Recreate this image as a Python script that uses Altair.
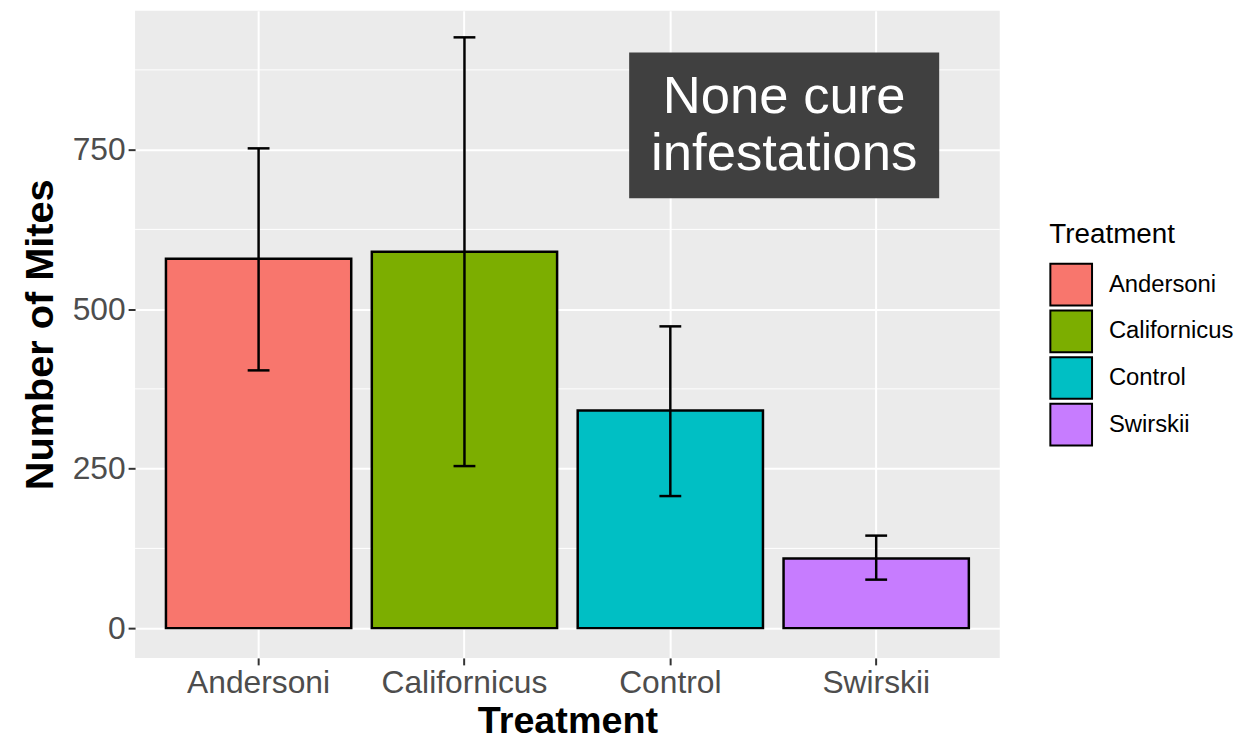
import altair as alt
import pandas as pd

# ---- data ----
treatments = ["Andersoni", "Californicus", "Control", "Swirskii"]
means = [579, 590, 341, 109]
err_low = [404, 254, 207, 76]
err_high = [752, 926, 473, 145]
colors = ["#F8766D", "#7CAE00", "#00BFC4", "#C77CFF"]
y_ticks = [0, 250, 500, 750]
minor_grid = [125, 375, 625, 875]

# annotation (in ggplot-like continuous units: categories at 1..4)
box_x = [2.80, 4.306]
box_y = [673.7, 902.4]
note_lines = ["None cure", "infestations"]
note_x = [3.553, 3.553]
note_y = [807.5, 718.0]

FONT = "Liberation Sans"

df = pd.DataFrame({"Treatment": treatments, "mean": means, "lo": err_low, "hi": err_high})
df_minor = pd.DataFrame({"v": minor_grid})
df_box = pd.DataFrame({"x": [box_x[0]], "x2": [box_x[1]], "y": [box_y[0]], "y2": [box_y[1]]})
df_note = pd.DataFrame({"t": note_lines, "x": note_x, "y": note_y})

y_scale = alt.Scale(domain=[-46.7, 967.8], nice=False, zero=False)
x_scale = alt.Scale(domain=treatments, paddingInner=0.1, paddingOuter=0.15)

x_enc = alt.X(
    "Treatment:N",
    scale=x_scale,
    sort=treatments,
    axis=alt.Axis(
        title="Treatment",
        titleFontSize=38,
        titleFontWeight="bold",
        titleColor="black",
        titleFont=FONT,
        titlePadding=4,
        labelFontSize=32,
        labelFont=FONT,
        labelColor="#4D4D4D",
        labelAngle=0,
        labelPadding=3,
        tickColor="#333333",
        tickWidth=2,
        tickSize=7,
        bandPosition=0.5,
        grid=True,
        gridColor="white",
        gridWidth=2,
        domain=False,
    ),
)

y_axis = alt.Axis(
    title="Number of Mites",
    titleFontSize=40,
    titleFontWeight="bold",
    titleColor="black",
    titleFont=FONT,
    titlePadding=12,
    labelFontSize=32,
    labelFont=FONT,
    labelColor="#4D4D4D",
    labelPadding=3,
    values=y_ticks,
    tickColor="#333333",
    tickWidth=2,
    tickSize=7,
    grid=True,
    gridColor="white",
    gridWidth=2,
    domain=False,
)

minor = alt.Chart(df_minor).mark_rule(color="white", strokeWidth=1).encode(
    y=alt.Y("v:Q", scale=y_scale, axis=y_axis)
)

bars = alt.Chart(df).mark_bar(stroke="black", strokeWidth=2.5, opacity=1).encode(
    x=x_enc,
    y=alt.Y("mean:Q", scale=y_scale, axis=y_axis),
    color=alt.Color(
        "Treatment:N",
        scale=alt.Scale(domain=treatments, range=colors),
        legend=alt.Legend(
            title="Treatment",
            orient="none",
            legendX=921,
            legendY=212,
            titleFontSize=28,
            titleFontWeight="normal",
            titleColor="black",
            titleFont=FONT,
            titlePadding=14,
            labelFontSize=24,
            labelFont=FONT,
            labelColor="black",
            symbolType="square",
            symbolSize=1764,
            symbolStrokeColor="black",
            symbolStrokeWidth=2,
            symbolOpacity=1,
            rowPadding=-7,
            labelOffset=16,
        ),
    ),
)

err = alt.Chart(df).mark_rule(color="black", strokeWidth=2.5).encode(
    x=alt.X("Treatment:N", scale=x_scale, sort=treatments),
    y=alt.Y("lo:Q", scale=y_scale),
    y2="hi:Q",
)

cap_hi = alt.Chart(df).mark_tick(color="black", thickness=2.5, size=22, opacity=1).encode(
    x=alt.X("Treatment:N", scale=x_scale, sort=treatments),
    y=alt.Y("hi:Q", scale=y_scale),
)
cap_lo = alt.Chart(df).mark_tick(color="black", thickness=2.5, size=22, opacity=1).encode(
    x=alt.X("Treatment:N", scale=x_scale, sort=treatments),
    y=alt.Y("lo:Q", scale=y_scale),
)

main = alt.layer(minor, bars, err, cap_hi, cap_lo)

ax_scale = alt.Scale(domain=[0.4, 4.6], nice=False, zero=False)
box = alt.Chart(df_box).mark_rect(color="#404040", opacity=1).encode(
    x=alt.X("x:Q", scale=ax_scale, axis=None),
    x2="x2:Q",
    y=alt.Y("y:Q", scale=y_scale),
    y2="y2:Q",
)
note = alt.Chart(df_note).mark_text(
    color="white", fontSize=53, font=FONT, align="center", baseline="alphabetic"
).encode(
    x=alt.X("x:Q", scale=ax_scale, axis=None),
    y=alt.Y("y:Q", scale=y_scale),
    text="t:N",
)
annot = alt.layer(box, note)

chart = (
    alt.layer(main, annot)
    .resolve_scale(x="independent")
    .properties(
        width=871,
        height=652,
        background="white",
        padding={"left": 12, "top": 0, "right": 0, "bottom": 0},
    )
    .configure_view(fill="#EBEBEB", strokeWidth=0, stroke=None)
)

chart.save("out.html", embed_options={"renderer": "svg", "actions": False})
